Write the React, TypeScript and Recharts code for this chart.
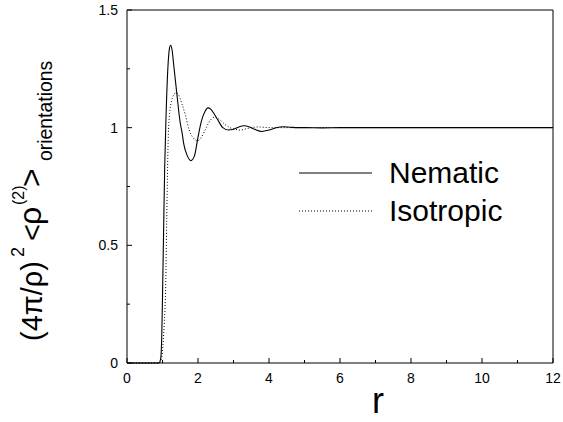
import { LineChart, Line, XAxis, YAxis } from 'recharts'

const nematicR = [0, 0.5, 0.9, 0.95, 0.98, 1.0, 1.03, 1.06, 1.1, 1.15, 1.2, 1.23, 1.27, 1.32, 1.4, 1.5, 1.55, 1.6, 1.7, 1.8, 1.9, 2.0, 2.1, 2.2, 2.28, 2.35, 2.45, 2.55, 2.7, 2.85, 3.0, 3.15, 3.3, 3.45, 3.6, 3.8, 4.0, 4.2, 4.4, 4.6, 4.8, 5.0, 5.5, 6, 7, 8, 9, 10, 11, 12]
const nematicG = [0, 0, 0, 0.02, 0.12, 0.28, 0.55, 0.82, 1.05, 1.25, 1.34, 1.35, 1.33, 1.26, 1.15, 1.02, 0.98, 0.93, 0.88, 0.86, 0.88, 0.96, 1.03, 1.07, 1.084, 1.08, 1.06, 1.035, 1.0, 0.99, 0.993, 1.003, 1.008, 1.003, 0.993, 0.984, 0.99, 1.0, 1.004, 1.002, 1.0, 1.0, 0.999, 1.0, 1.0, 1.0, 1.0, 1.0, 1.0, 1.0]

const isotropicR = [0, 0.5, 0.9, 0.95, 1.0, 1.05, 1.09, 1.12, 1.16, 1.2, 1.25, 1.3, 1.38, 1.45, 1.55, 1.65, 1.75, 1.85, 1.99, 2.1, 2.2, 2.3, 2.4, 2.48, 2.6, 2.75, 2.9, 3.05, 3.18, 3.35, 3.5, 3.7, 3.9, 4.2, 5, 6, 7, 8, 9, 10, 11, 12]
const isotropicG = [0, 0, 0, 0.01, 0.05, 0.17, 0.33, 0.62, 0.95, 1.06, 1.11, 1.135, 1.148, 1.14, 1.1, 1.05, 0.99, 0.96, 0.945, 0.96, 0.99, 1.02, 1.04, 1.045, 1.035, 1.015, 1.0, 0.993, 0.99, 0.995, 1.0, 1.003, 1.001, 1.0, 1.0, 1.0, 1.0, 1.0, 1.0, 1.0, 1.0, 1.0]

const xTicks = [0, 1, 2, 3, 4, 5, 6, 7, 8, 9, 10, 11, 12]
const yTicks = [0, 0.25, 0.5, 0.75, 1, 1.25, 1.5]
const xLabels = [0, 2, 4, 6, 8, 10, 12]
const yLabels = [0, 0.5, 1, 1.5]

const nematicData = nematicR.map((r, i) => ({ r, g: nematicG[i] }))
const isotropicData = isotropicR.map((r, i) => ({ r, g: isotropicG[i] }))

const FONT = '"Liberation Sans", Arial, sans-serif'
const INK = '#000'

function BottomTick({ x, y, payload }: any) {
  const v = payload.value
  const major = xLabels.includes(v)
  return (
    <g>
      <line x1={x} x2={x} y1={y} y2={y - (major ? 5 : 3)} stroke={INK} />
      {major && (
        <text x={x} y={y + 20} textAnchor="middle" fontSize={14} fontFamily={FONT} fill={INK}>
          {v}
        </text>
      )}
    </g>
  )
}

function TopTick({ x, y, payload }: any) {
  const major = xLabels.includes(payload.value)
  return <line x1={x} x2={x} y1={y} y2={y + (major ? 5 : 3)} stroke={INK} />
}

function LeftTick({ x, y, payload }: any) {
  const v = payload.value
  const major = yLabels.includes(v)
  return (
    <g>
      <line x1={x} x2={x + (major ? 5 : 3)} y1={y} y2={y} stroke={INK} />
      {major && (
        <text x={x - 9} y={y + 5} textAnchor="end" fontSize={14} fontFamily={FONT} fill={INK}>
          {v}
        </text>
      )}
    </g>
  )
}

function RightTick({ x, y, payload }: any) {
  const major = yLabels.includes(payload.value)
  return <line x1={x} x2={x - (major ? 5 : 3)} y1={y} y2={y} stroke={INK} />
}

// legend drawn straight into the svg so it takes no room from the plot
function LegendBox() {
  return (
    <g fontFamily={FONT} fill={INK} fontSize={30}>
      <line x1={299} x2={372} y1={173} y2={173} stroke={INK} strokeWidth={1} />
      <text x={389} y={183}>Nematic</text>
      <line x1={299} x2={372} y1={211} y2={211} stroke={INK} strokeWidth={1} strokeDasharray="1 2" />
      <text x={389} y={221}>Isotropic</text>
    </g>
  )
}

function YTitle() {
  return (
    <text transform="rotate(-90)" fontFamily={FONT} fill={INK} fontSize={29}>
      <tspan x={-341} y={42}>(4π/ρ)</tspan>
      <tspan x={-257} y={24} fontSize={18}>2</tspan>
      <tspan x={-241} y={42}>&lt;</tspan>
      <tspan x={-225} y={41} fontSize={32}>ρ</tspan>
      <tspan x={-205} y={24} fontSize={16}>(2)</tspan>
      <tspan x={-187} y={42} fontSize={32}>&gt;</tspan>
      <tspan x={-161} y={52} fontSize={19.4}>orientations</tspan>
    </text>
  )
}

export default function App() {
  return (
    <div style={{ position: 'absolute', left: 0, top: 0, width: 563, height: 422, background: '#fff' }}>
      <LineChart width={563} height={422} margin={{ top: 9, right: 9, bottom: 0, left: 0 }}>
        <XAxis
          xAxisId="b"
          dataKey="r"
          type="number"
          domain={[0, 12]}
          ticks={xTicks}
          allowDuplicatedCategory={false}
          interval={0}
          height={59}
          tickSize={0}
          tickMargin={0}
          tickLine={false}
          axisLine={{ stroke: INK }}
          tick={<BottomTick />}
        />
        <XAxis
          xAxisId="t"
          orientation="top"
          dataKey="r"
          type="number"
          domain={[0, 12]}
          ticks={xTicks}
          allowDuplicatedCategory={false}
          interval={0}
          height={1}
          tickSize={0}
          tickMargin={0}
          tickLine={false}
          axisLine={{ stroke: INK }}
          tick={<TopTick />}
        />
        <YAxis
          yAxisId="l"
          type="number"
          domain={[0, 1.5]}
          ticks={yTicks}
          interval={0}
          width={127}
          tickSize={0}
          tickMargin={0}
          tickLine={false}
          axisLine={{ stroke: INK }}
          tick={<LeftTick />}
          label={<YTitle />}
        />
        <YAxis
          yAxisId="r"
          orientation="right"
          type="number"
          domain={[0, 1.5]}
          ticks={yTicks}
          interval={0}
          width={1}
          tickSize={0}
          tickMargin={0}
          tickLine={false}
          axisLine={{ stroke: INK }}
          tick={<RightTick />}
        />
        <Line
          xAxisId="b"
          yAxisId="l"
          data={nematicData}
          dataKey="g"
          name="Nematic"
          type="monotone"
          stroke={INK}
          strokeWidth={1.1}
          dot={false}
          isAnimationActive={false}
        />
        <Line
          xAxisId="b"
          yAxisId="l"
          data={isotropicData}
          dataKey="g"
          name="Isotropic"
          type="monotone"
          stroke={INK}
          strokeWidth={1}
          strokeDasharray="1 2"
          dot={false}
          isAnimationActive={false}
        />
        <LegendBox />
        <text x={378} y={413} textAnchor="middle" fontFamily={FONT} fontSize={36} fill={INK}>r</text>
      </LineChart>
    </div>
  )
}
